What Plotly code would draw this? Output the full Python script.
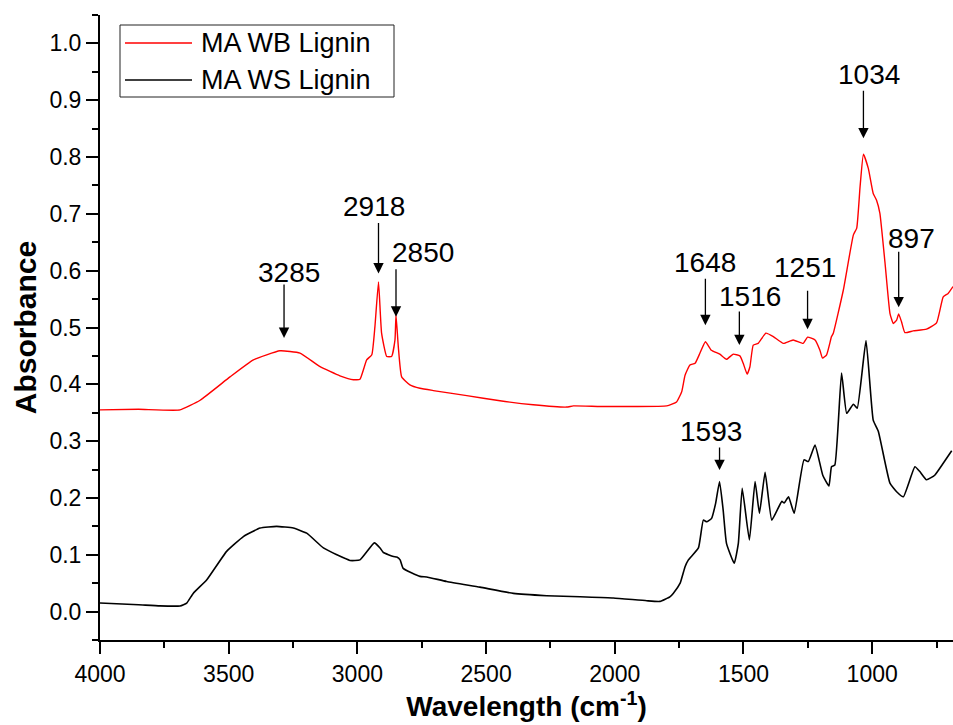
import plotly.graph_objects as go

# ---- spectra: wavenumber (cm-1) and absorbance ----
wb_wavenumber = [4000, 3850, 3689, 3611, 3495, 3404, 3301, 3223, 3145, 3068, 3016, 2990,
                 2964, 2944, 2932, 2918, 2906, 2886, 2867, 2854, 2850, 2841, 2828, 2796,
                 2757, 2705, 2575, 2446, 2317, 2187, 2161, 2057, 1928, 1798, 1760, 1740,
                 1727, 1708, 1688, 1669, 1648, 1625, 1592, 1566, 1540, 1514, 1501, 1486,
                 1475, 1462, 1443, 1413, 1384, 1345, 1307, 1268, 1251, 1222, 1203, 1193,
                 1177, 1158, 1151, 1112, 1073, 1060, 1047, 1034, 1015, 996, 983, 970,
                 950, 931, 918, 905, 897, 886, 873, 841, 789, 750, 724, 705, 686]
wb_absorbance = [0.355, 0.356, 0.355, 0.372, 0.413, 0.443, 0.459, 0.455, 0.431, 0.415, 0.408, 0.409,
                 0.443, 0.452, 0.501, 0.580, 0.490, 0.449, 0.449, 0.478, 0.522, 0.466, 0.413, 0.399,
                 0.393, 0.389, 0.380, 0.371, 0.364, 0.360, 0.362, 0.361, 0.361, 0.362, 0.369, 0.387,
                 0.416, 0.434, 0.437, 0.455, 0.475, 0.460, 0.453, 0.444, 0.453, 0.450, 0.437, 0.418,
                 0.431, 0.469, 0.472, 0.490, 0.484, 0.472, 0.478, 0.472, 0.483, 0.478, 0.460, 0.446,
                 0.452, 0.484, 0.490, 0.566, 0.663, 0.675, 0.748, 0.805, 0.780, 0.736, 0.724, 0.701,
                 0.613, 0.525, 0.507, 0.513, 0.524, 0.510, 0.491, 0.494, 0.497, 0.508, 0.554, 0.560, 0.572]

ws_wavenumber = [4000, 3850, 3767, 3689, 3663, 3638, 3585, 3508, 3443, 3378, 3314, 3249,
                 3197, 3132, 3080, 3029, 2990, 2934, 2912, 2899, 2860, 2847, 2834, 2822,
                 2757, 2731, 2653, 2524, 2394, 2265, 2135, 2006, 1876, 1824, 1786, 1773,
                 1746, 1727, 1714, 1675, 1656, 1643, 1624, 1608, 1593, 1579, 1566, 1536,
                 1520, 1505, 1477, 1455, 1438, 1416, 1390, 1351, 1342, 1325, 1303, 1265,
                 1248, 1222, 1192, 1168, 1158, 1145, 1119, 1099, 1073, 1058, 1024, 996,
                 976, 931, 905, 879, 834, 814, 789, 757, 724, 691]
ws_absorbance = [0.015, 0.012, 0.010, 0.010, 0.015, 0.032, 0.056, 0.106, 0.132, 0.147, 0.150, 0.147,
                 0.138, 0.112, 0.100, 0.090, 0.091, 0.121, 0.112, 0.104, 0.097, 0.096, 0.091, 0.076,
                 0.062, 0.061, 0.053, 0.043, 0.032, 0.028, 0.026, 0.024, 0.019, 0.018, 0.026, 0.032,
                 0.050, 0.079, 0.091, 0.112, 0.161, 0.158, 0.164, 0.191, 0.229, 0.179, 0.120, 0.085,
                 0.120, 0.217, 0.126, 0.229, 0.173, 0.245, 0.161, 0.194, 0.191, 0.202, 0.173, 0.267,
                 0.264, 0.293, 0.240, 0.221, 0.255, 0.258, 0.420, 0.349, 0.365, 0.358, 0.477, 0.337,
                 0.317, 0.226, 0.211, 0.202, 0.255, 0.246, 0.232, 0.240, 0.261, 0.283]

# ---- peak labels: wavenumber, absorbance at arrow tip ----
peak_labels = ["3285", "2918", "2850", "1648", "1516", "1251", "1034", "897", "1593"]
peak_wavenumber = [3285, 2918, 2850, 1648, 1516, 1251, 1034, 897, 1593]
peak_tip = [0.4815, 0.595, 0.519, 0.504, 0.469, 0.497, 0.833, 0.5355, 0.249]

# arrow length, label horizontal offset, label rise above tip (pixels)
arrow_len = [55, 52, 49, 48, 35, 40, 49, 57, 24]
label_dx = [5, -5, 27, 0, 11, -3, 6, 13, -9]
label_rise = [66, 67, 64, 63, 49, 62, 64, 69, 39]

FONT = "Arial, Liberation Sans, sans-serif"
W, H = 953, 725
ML, MR, MT, MB = 100, 0, 15, 85
PW, PH = W - ML - MR, H - MT - MB


def px_x(p):
    return (p - ML) / PW


def px_y(p):
    return (H - MB - p) / PH


fig = go.Figure()
fig.add_trace(go.Scatter(x=wb_wavenumber, y=wb_absorbance, mode="lines", name="MA WB Lignin",
                         line=dict(color="#ff0000", width=1.4, shape="spline", smoothing=0.4)))
fig.add_trace(go.Scatter(x=ws_wavenumber, y=ws_absorbance, mode="lines", name="MA WS Lignin",
                         line=dict(color="#000000", width=1.6, shape="spline", smoothing=0.4)))

annotations = []
for lab, wn, tip, ln, dx, rise in zip(peak_labels, peak_wavenumber, peak_tip,
                                      arrow_len, label_dx, label_rise):
    annotations.append(dict(x=wn, y=tip, xref="x", yref="y", text="", showarrow=True,
                            ax=0, ay=-ln, arrowhead=2, arrowsize=1.6, arrowwidth=1.3,
                            arrowcolor="black", standoff=0, startstandoff=0))
    annotations.append(dict(x=wn, y=tip, xref="x", yref="y", text=lab, showarrow=False,
                            xshift=dx, yshift=rise, xanchor="center", yanchor="middle",
                            font=dict(family=FONT, size=28, color="black")))

# legend box drawn by hand
shapes = [dict(type="rect", xref="paper", yref="paper",
               x0=px_x(120), x1=px_x(394), y0=px_y(97), y1=px_y(25),
               line=dict(color="#222222", width=1), fillcolor="white", layer="above")]
legend_rows = [("MA WB Lignin", "#ff0000", 43), ("MA WS Lignin", "#000000", 80)]
for name, col, yy in legend_rows:
    shapes.append(dict(type="line", xref="paper", yref="paper",
                       x0=px_x(125), x1=px_x(192), y0=px_y(yy), y1=px_y(yy),
                       line=dict(color=col, width=1.3), layer="above"))
    annotations.append(dict(x=px_x(199), y=px_y(yy), xref="paper", yref="paper",
                            text=name, showarrow=False, xanchor="left", yanchor="middle",
                            font=dict(family=FONT, size=27, color="black")))

fig.update_layout(
    width=W, height=H,
    margin=dict(l=ML, r=MR, t=MT, b=MB),
    paper_bgcolor="white", plot_bgcolor="white",
    showlegend=False,
    annotations=annotations,
    shapes=shapes,
    font=dict(family=FONT, color="black"),
)
fig.update_xaxes(
    range=[4000, 686], dtick=500, tick0=0,
    showgrid=False, zeroline=False,
    showline=True, linecolor="black", linewidth=2,
    ticks="outside", ticklen=12, tickwidth=2, tickcolor="black",
    minor=dict(ticks="outside", ticklen=6, tickwidth=2, tickcolor="black", dtick=250, showgrid=False),
    tickfont=dict(family=FONT, size=23),
    title=dict(text="<b>Wavelength (cm<sup>-1</sup>)</b>", font=dict(family=FONT, size=28), standoff=6),
)
fig.update_yaxes(
    range=[-0.05, 1.05], dtick=0.1, tick0=0, tickformat=".1f",
    showgrid=False, zeroline=False,
    showline=True, linecolor="black", linewidth=2,
    ticks="outside", ticklen=12, tickwidth=2, tickcolor="black",
    minor=dict(ticks="outside", ticklen=6, tickwidth=2, tickcolor="black", dtick=0.05, showgrid=False),
    tickfont=dict(family=FONT, size=23),
    title=dict(text="<b>Absorbance</b>", font=dict(family=FONT, size=30), standoff=4),
)

fig.write_html("out.html")
